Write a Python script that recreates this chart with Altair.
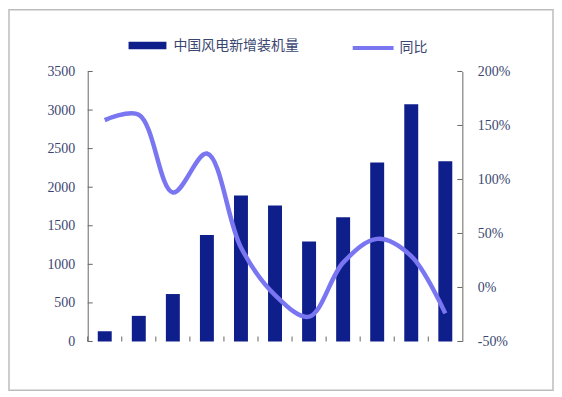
import altair as alt
import pandas as pd

years = ["2006", "2007", "2008", "2009", "2010", "2011", "2012", "2013", "2014", "2015", "2016"]
installed = [133, 332, 615, 1380, 1893, 1763, 1296, 1609, 2320, 3075, 2337]
yoy = [1.55, 1.60, 0.88, 1.24, 0.37, -0.07, -0.27, 0.23, 0.45, 0.29, -0.24]
left_ticks = [0, 500, 1000, 1500, 2000, 2500, 3000, 3500]
right_ticks = [-0.5, 0.0, 0.5, 1.0, 1.5, 2.0]
bar_name = "中国风电新增装机量"
line_name = "同比"

BAR_COLOR = "#0e1e8b"
LINE_COLOR = "#7a76f2"
TEXT_COLOR = "#3a4670"
AXIS_COLOR = "#666666"
SERIF = "Liberation Serif"
CJK = "Noto Sans CJK SC"

df = pd.DataFrame({"year": years, "installed": installed, "yoy": yoy,
                   "s1": bar_name, "s2": line_name})
df_lt = pd.DataFrame({"v": left_ticks})
df_rt = pd.DataFrame({"v": right_ticks})
df_xt = pd.DataFrame({"year": years})

W, H = 376, 271

xscale = alt.Scale(paddingInner=0, paddingOuter=0)
x_axis = alt.Axis(title=None, labelAngle=0, ticks=False, labelFont=SERIF, labelFontSize=14,
                  labelColor=TEXT_COLOR, labelPadding=9, domainColor=AXIS_COLOR, grid=False)
yl_scale = alt.Scale(domain=[0, 3500], nice=False, zero=False)
yr_scale = alt.Scale(domain=[-0.5, 2.0], nice=False, zero=False)

bars = alt.Chart(df).mark_bar(width=14, color=BAR_COLOR).encode(
    x=alt.X("year:N", scale=xscale, axis=x_axis, sort=years),
    y=alt.Y("installed:Q", scale=yl_scale,
            axis=alt.Axis(title=None, values=left_ticks, format="d", ticks=False, grid=False,
                          orient="left", labelFont=SERIF, labelFontSize=14,
                          labelColor=TEXT_COLOR, labelPadding=13, domainColor=AXIS_COLOR)),
    color=alt.Color("s1:N", scale=alt.Scale(domain=[bar_name], range=[BAR_COLOR]),
                    legend=alt.Legend(title=None, orient="none", legendX=41, legendY=-45,
                                      symbolType="M-1,-0.2L1,-0.2L1,0.2L-1,0.2Z",
                                      symbolSize=1444, symbolStrokeWidth=0,
                                      labelFont=CJK, labelFontSize=14, labelColor=TEXT_COLOR,
                                      labelOffset=7)),
)

line = alt.Chart(df).mark_line(strokeWidth=4.5, interpolate="catmull-rom").encode(
    x=alt.X("year:N", scale=xscale, sort=years),
    y=alt.Y("yoy:Q", scale=yr_scale,
            axis=alt.Axis(title=None, values=right_ticks, format=".0%",
                          labelExpr="replace(datum.label, '\u2212', '-')",
                          ticks=False, grid=False,
                          orient="right", labelFont=SERIF, labelFontSize=14,
                          labelColor=TEXT_COLOR, labelPadding=15, domainColor=AXIS_COLOR)),
    stroke=alt.Stroke("s2:N", scale=alt.Scale(domain=[line_name], range=[LINE_COLOR]),
                      legend=alt.Legend(title=None, orient="none", legendX=264, legendY=-46,
                                        symbolType="stroke", symbolSize=1681,
                                        symbolStrokeWidth=4,
                                        labelFont=CJK, labelFontSize=14, labelColor=TEXT_COLOR,
                                        labelOffset=4)),
)

lt = alt.Chart(df_lt).mark_rule(color=AXIS_COLOR, strokeWidth=1).encode(
    x=alt.value(0), x2=alt.value(5),
    y=alt.Y("v:Q", scale=yl_scale, axis=None),
)
rt = alt.Chart(df_rt).mark_rule(color=AXIS_COLOR, strokeWidth=1).encode(
    x=alt.value(W - 5), x2=alt.value(W),
    y=alt.Y("v:Q", scale=yr_scale, axis=None),
)
xt = alt.Chart(df_xt).mark_rule(color=AXIS_COLOR, strokeWidth=1).encode(
    x=alt.X("year:N", scale=xscale, sort=years, bandPosition=0, axis=None),
    y=alt.value(H), y2=alt.value(H - 5),
)

frame = alt.Chart(df.head(1)).mark_rect(fill="transparent", stroke="#bdbdbd", strokeWidth=1.5).encode(
    x=alt.value(-79), x2=alt.value(467), y=alt.value(-62), y2=alt.value(320),
)

chart = alt.layer(frame, bars, line, lt, rt, xt).resolve_scale(
    y="independent"
).properties(
    width=W, height=H,
    padding={"left": 80, "top": 63, "right": 92, "bottom": 52},
    autosize=alt.AutoSizeParams(type="none"),
    background="white",
).configure_view(stroke=None)

chart.save("out.html", embed_options={"renderer": "svg", "actions": False})
